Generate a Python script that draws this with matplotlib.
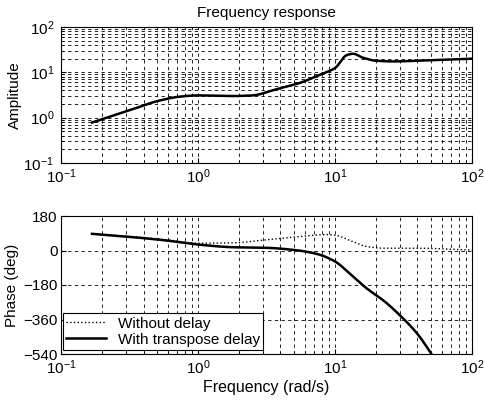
import matplotlib
matplotlib.use("Agg")
import matplotlib.pyplot as plt
import numpy as np
from matplotlib.ticker import LogLocator, FixedLocator, NullFormatter

freq_amp = [0.168, 0.33, 0.5, 0.73, 1.0, 1.8, 2.5, 3.7, 5.5, 7.8, 10.0, 12.2, 13.6, 16.0, 20.0, 26.7, 40.0, 100.0]
amp = [0.78, 1.52, 2.3, 2.9, 3.1, 3.0, 3.1, 4.2, 5.8, 8.9, 12.4, 24.0, 25.7, 21.0, 18.0, 17.4, 18.0, 20.0]

freq_nd = [0.168, 0.33, 0.59, 1.0, 1.8, 3.16, 5.5, 8.7, 10.0, 12.9, 17.0, 22.6, 40.0, 100.0]
phase_nd = [87, 73, 56, 38, 40, 56, 73, 83, 80, 52, 21, 12, 12, 2]

freq_d = [0.168, 0.33, 0.59, 1.0, 1.8, 3.16, 5.0, 7.3, 10.0, 12.9, 17.0, 22.6, 29.9, 40.0, 49.6, 55.0]
phase_d = [87, 70, 52, 31, 17, 14, 3, -17, -57, -122, -197, -261, -339, -435, -530, -580]

labels = ["Without delay", "With transpose delay"]

plt.rcParams['font.family'] = ['Liberation Sans', 'DejaVu Sans']
plt.rcParams['font.size'] = 10


def pchip(x, y, n=400):
    x = np.log10(np.asarray(x, float))
    y = np.asarray(y, float)
    h = np.diff(x)
    d = np.diff(y) / h
    m = np.zeros_like(y)
    for i in range(1, len(y) - 1):
        if d[i - 1] * d[i] > 0:
            w1 = 2 * h[i] + h[i - 1]
            w2 = h[i] + 2 * h[i - 1]
            m[i] = (w1 + w2) / (w1 / d[i - 1] + w2 / d[i])
    m[0] = d[0]
    m[-1] = d[-1]
    xs = np.linspace(x[0], x[-1], n)
    idx = np.clip(np.searchsorted(x, xs) - 1, 0, len(x) - 2)
    t = (xs - x[idx]) / h[idx]
    h00 = 2 * t**3 - 3 * t**2 + 1
    h10 = t**3 - 2 * t**2 + t
    h01 = -2 * t**3 + 3 * t**2
    h11 = t**3 - t**2
    ys = h00 * y[idx] + h10 * h[idx] * m[idx] + h01 * y[idx + 1] + h11 * h[idx] * m[idx + 1]
    return 10 ** xs, ys


fig = plt.figure(figsize=(4.85, 4.0), dpi=100)
ax1 = fig.add_axes([0.126, 0.5925, 0.847, 0.34])
ax2 = fig.add_axes([0.126, 0.115, 0.847, 0.345])

gkw = dict(color='black', linestyle=(0, (4, 4)), linewidth=0.6)

# Amplitude
xa, ya = pchip(freq_amp, np.log10(amp))
ax1.plot(xa, 10 ** ya, color='black', linewidth=1.8)
ax1.set_xscale('log')
ax1.set_yscale('log')
ax1.set_xlim(0.1, 100)
ax1.set_ylim(0.1, 100)
ax1.yaxis.set_major_locator(LogLocator(base=10, numticks=10))
ax1.yaxis.set_minor_locator(LogLocator(base=10, subs=np.arange(2, 10), numticks=10))
ax1.xaxis.set_minor_locator(LogLocator(base=10, subs=np.arange(2, 10), numticks=10))
ax1.yaxis.set_minor_formatter(NullFormatter())
ax1.xaxis.set_minor_formatter(NullFormatter())
ax1.grid(True, which='both', **gkw)
ax1.set_ylabel("Amplitude", fontsize=11, labelpad=1)
ax1.set_title("Frequency response", fontsize=11, pad=7)

# Phase
xn, yn = pchip(freq_nd, phase_nd)
xd, yd = pchip(freq_d, phase_d)
ax2.plot(xn, yn, color='black', linestyle=':', linewidth=1.0, label=labels[0])
ax2.plot(xd, yd, color='black', linestyle='-', linewidth=1.8, label=labels[1])
ax2.set_xscale('log')
ax2.set_xlim(0.1, 100)
ax2.set_ylim(-540, 180)
ax2.yaxis.set_major_locator(FixedLocator([-540, -360, -180, 0, 180]))
ax2.set_yticklabels(["\u2212540", "\u2212360", "\u2212180", "0", "180"])
ax2.xaxis.set_minor_locator(LogLocator(base=10, subs=np.arange(2, 10), numticks=10))
ax2.xaxis.set_minor_formatter(NullFormatter())
ax2.grid(True, which='both', axis='x', **gkw)
ax2.grid(True, which='major', axis='y', **gkw)
ax2.set_ylabel("Phase (deg)", fontsize=11, labelpad=3)
ax2.set_xlabel("Frequency (rad/s)", fontsize=11.5, labelpad=2)
leg = ax2.legend(loc='lower left', bbox_to_anchor=(0.005, 0.03), fancybox=False,
                 edgecolor='black', framealpha=1, fontsize=11, borderpad=0.2,
                 labelspacing=0.15, handlelength=2.6, handletextpad=0.8,
                 borderaxespad=0.0)
leg.get_frame().set_linewidth(0.8)

for ax in (ax1, ax2):
    ax.tick_params(which='both', direction='in', labelsize=11)
    for s in ax.spines.values():
        s.set_linewidth(0.8)
ax1.tick_params(axis='y', pad=5)
ax2.tick_params(axis='y', pad=2.5)

fig.savefig("out.png", dpi=100)
